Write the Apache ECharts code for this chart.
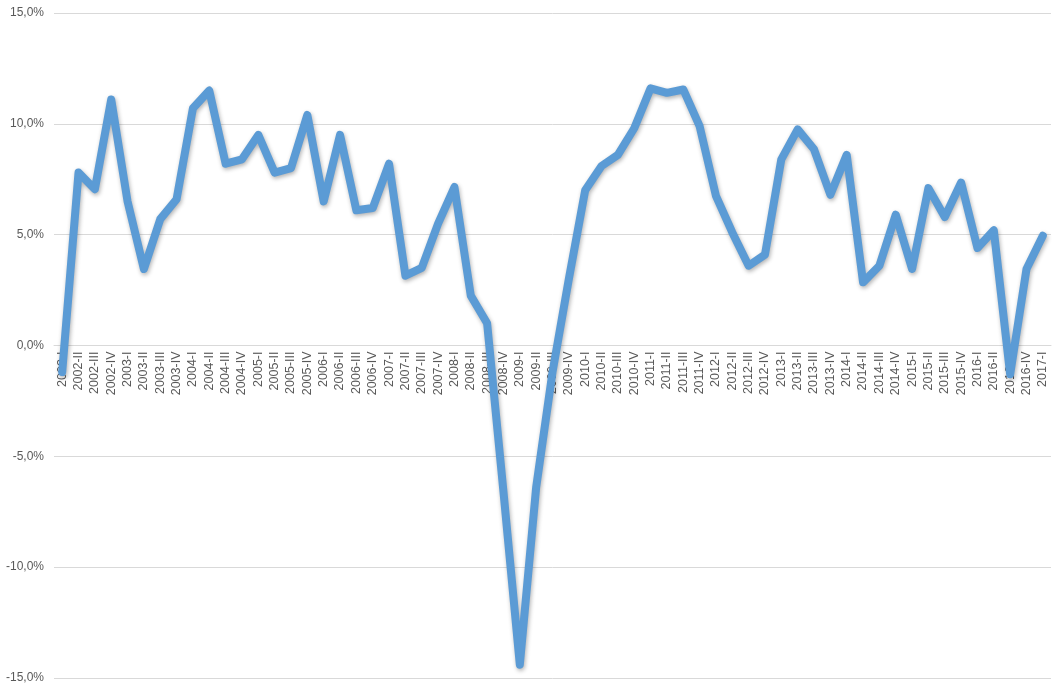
<!DOCTYPE html>
<html>
<head>
<meta charset="utf-8">
<script src="https://cdn.jsdelivr.net/npm/echarts@6/dist/echarts.min.js"></script>
<style>html,body{margin:0;padding:0;background:#fff}#c{width:1060px;height:689px}</style>
</head>
<body>
<div id="c"></div>
<script>
const roman = ['I','II','III','IV'];
const categories = [];
for (let y = 2002; y <= 2017; y++) {
  for (let q = 0; q < 4; q++) {
    if (y === 2017 && q > 0) break;
    categories.push(y + '-' + roman[q]);
  }
}
const values = [
  -1.2, 7.8, 7.05, 11.1,
  6.5, 3.45, 5.7, 6.6,
  10.7, 11.5, 8.2, 8.4,
  9.5, 7.8, 8.0, 10.4,
  6.5, 9.5, 6.1, 6.2,
  8.2, 3.15, 3.5, 5.5,
  7.15, 2.25, 1.0, -6.6,
  -14.4, -6.4, -1.2, 3.0,
  7.0, 8.1, 8.6, 9.8,
  11.6, 11.4, 11.55, 9.9,
  6.75, 5.1, 3.6, 4.1,
  8.4, 9.75, 8.85, 6.8,
  8.6, 2.85, 3.6, 5.9,
  3.45, 7.1, 5.8, 7.35,
  4.4, 5.2, -1.3, 3.45,
  4.95
];
const yTicks = [-15, -10, -5, 0, 5, 10, 15];

const H = 689, TOP = 13, BOTTOM = 11;
const plotH = H - TOP - BOTTOM;
const zeroOffset = -plotH * (0 - yTicks[0]) / (yTicks[yTicks.length - 1] - yTicks[0]);

const chart = echarts.init(document.getElementById('c'));
chart.setOption({
  animation: false,
  backgroundColor: '#ffffff',
  grid: { left: 54, right: 9, top: TOP, bottom: BOTTOM, containLabel: false, outerBoundsMode: 'none' },
  xAxis: {
    type: 'category',
    data: categories,
    boundaryGap: true,
    offset: zeroOffset,
    axisLine: { onZero: false, lineStyle: { color: '#d9d9d9', width: 1 } },
    axisTick: { show: false },
    axisLabel: {
      rotate: 90, interval: 0, margin: 6,
      color: '#595959', fontSize: 12.5, fontFamily: 'Liberation Sans, Arial, sans-serif'
    },
    splitLine: { show: false }
  },
  yAxis: {
    type: 'value',
    min: yTicks[0], max: yTicks[yTicks.length - 1], interval: 5,
    axisLine: { show: false },
    axisTick: { show: false },
    axisLabel: {
      margin: 10, color: '#595959', fontSize: 12, fontFamily: 'Liberation Sans, Arial, sans-serif',
      formatter: v => v.toFixed(1).replace('.', ',') + '%'
    },
    splitLine: { lineStyle: { color: '#d9d9d9', width: 1 } }
  },
  series: [{
    type: 'line',
    data: values,
    symbol: 'none',
    smooth: false,
    lineStyle: {
      color: '#5B9BD5', width: 8, join: 'round', cap: 'round',
      shadowColor: 'rgba(0,0,0,0.3)', shadowBlur: 4, shadowOffsetX: 1, shadowOffsetY: 2
    },
    itemStyle: { color: '#5B9BD5' }
  }]
});
</script>
</body>
</html>
